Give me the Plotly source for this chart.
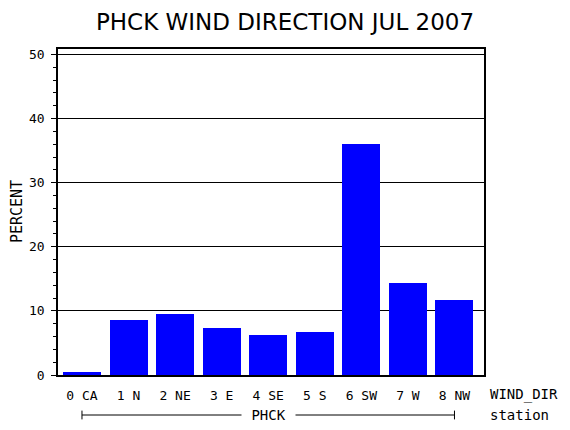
import plotly.graph_objects as go

# wind direction frequencies for the station, July 2007
station = "PHCK"
codes = [0, 1, 2, 3, 4, 5, 6, 7, 8]
directions = ["CA", "N", "NE", "E", "SE", "S", "SW", "W", "NW"]
percent = [0.4, 8.6, 9.5, 7.4, 6.2, 6.7, 36.0, 14.3, 11.7]
y_ticks = [0, 10, 20, 30, 40, 50]

labels = ["{}\u00a0{}".format(c, d) for c, d in zip(codes, directions)]
mono = "DejaVu Sans Mono"

fig = go.Figure()
fig.add_trace(go.Bar(x=codes, y=percent, width=0.816, marker=dict(color="#0000ff", line=dict(width=0)),
                     showlegend=False))

# page body has an 8px margin, so the figure is 8px smaller and shifted
fig.update_layout(
    width=562, height=422,
    margin=dict(l=50, r=86, t=41, b=55),
    plot_bgcolor="white", paper_bgcolor="white",
    title=dict(text="PHCK WIND DIRECTION JUL 2007", x=0.4929, xref="container", xanchor="center",
               y=0.987, yanchor="top", pad=dict(t=0, b=0),
               font=dict(family="DejaVu Sans", size=23, color="black")),
    font=dict(family=mono, size=12, color="black"),
    bargap=0,
)

fig.update_xaxes(
    range=[-0.515, 8.634], tickvals=codes, ticktext=labels,
    showline=True, linecolor="black", linewidth=1.5, mirror=True,
    ticks="", showgrid=False, zeroline=False, ticklabelstandoff=8,
    tickfont=dict(family=mono, size=13),
)
fig.update_yaxes(
    range=[0, 50.86], tickvals=y_ticks,
    showline=True, linecolor="black", linewidth=1.5, mirror=True,
    ticks="outside", ticklen=5, tickcolor="black",
    minor=dict(dtick=2, ticks="outside", ticklen=3, tickcolor="black", showgrid=False),
    showgrid=True, gridcolor="black", gridwidth=1.2, zeroline=False,
    ticklabelstandoff=4, tickfont=dict(family=mono, size=13),
)

# axis labels drawn SAS style
fig.add_annotation(text="PERCENT", x=-0.096, y=0.5, xref="paper", yref="paper",
                   xanchor="center", yanchor="middle",
                   textangle=-90, showarrow=False, font=dict(family=mono, size=15))
fig.add_annotation(text="WIND_DIR", x=1.009, y=-0.0613, xref="paper", yref="paper",
                   xanchor="left", yanchor="middle", showarrow=False, font=dict(family=mono, size=14))
fig.add_annotation(text="station", x=1.009, y=-0.1227, xref="paper", yref="paper",
                   xanchor="left", yanchor="middle", showarrow=False, font=dict(family=mono, size=14))

# station bracket under the categories
fig.add_shape(type="line", x0=codes[0], x1=codes[-1], y0=-0.1227, y1=-0.1227,
              xref="x", yref="paper", line=dict(color="black", width=1))
for c in [codes[0], codes[-1]]:
    fig.add_shape(type="line", x0=c, x1=c, y0=-0.1227 - 0.0135, y1=-0.1227 + 0.0135,
                  xref="x", yref="paper", line=dict(color="black", width=1))
fig.add_annotation(text="\u00a0" + station + "\u00a0", x=(codes[0] + codes[-1]) / 2, y=-0.1227,
                   xref="x", yref="paper", xanchor="center", yanchor="middle",
                   showarrow=False, bgcolor="white", font=dict(family=mono, size=14))

fig.write_html("out.html")
